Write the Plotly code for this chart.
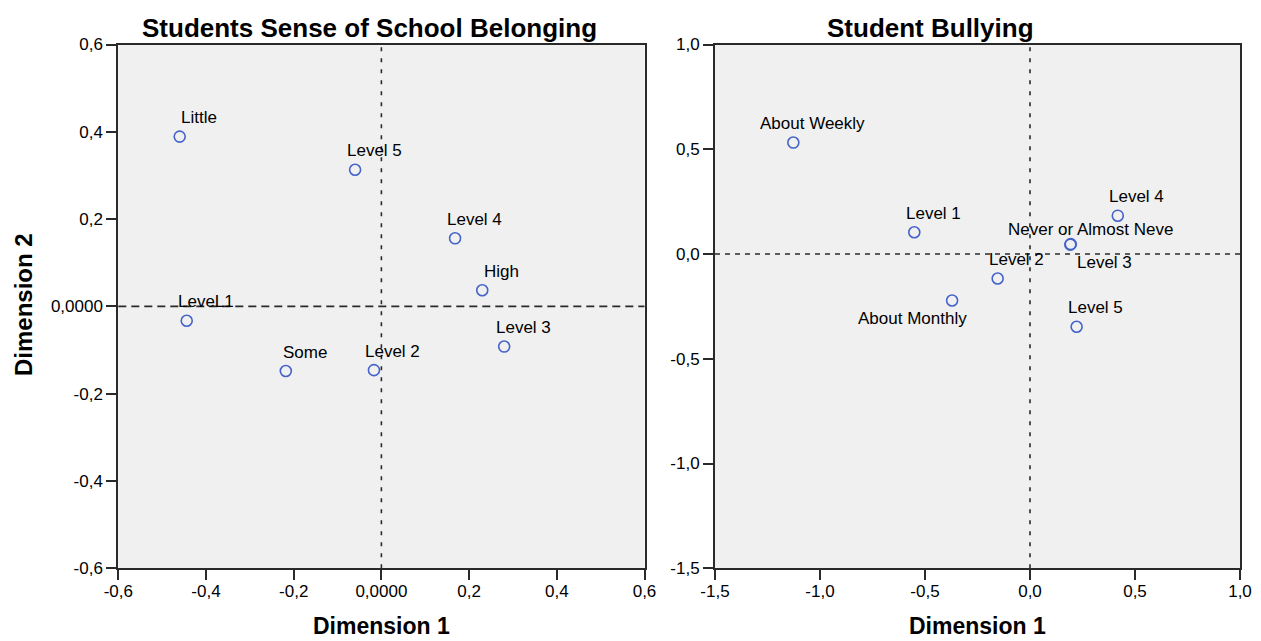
import plotly.graph_objects as go

# ---------------- data ----------------
belong_labels = ["Little", "Level 5", "Level 4", "High", "Level 3", "Level 2", "Some", "LeveL1"]
belong_dim1 = [-0.460, -0.060, 0.168, 0.230, 0.280, -0.017, -0.218, -0.444]
belong_dim2 = [0.389, 0.313, 0.156, 0.037, -0.092, -0.146, -0.148, -0.033]

bully_labels = ["About Weekly", "Level 1", "Level 4", "Never or Almost Neve", "Level 3",
                "Level 2", "About Monthly", "Level 5"]
bully_dim1 = [-1.127, -0.551, 0.418, 0.194, 0.192, -0.154, -0.371, 0.222]
bully_dim2 = [0.532, 0.104, 0.183, 0.047, 0.045, -0.117, -0.222, -0.347]

left_x_ticks = [-0.6, -0.4, -0.2, 0.0, 0.2, 0.4, 0.6]
left_x_text = ["-0,6", "-0,4", "-0,2", "0,0000", "0,2", "0,4", "0,6"]
left_y_ticks = [-0.6, -0.4, -0.2, 0.0, 0.2, 0.4, 0.6]
left_y_text = ["-0,6", "-0,4", "-0,2", "0,0000", "0,2", "0,4", "0,6"]

right_x_ticks = [-1.5, -1.0, -0.5, 0.0, 0.5, 1.0]
right_x_text = ["-1,5", "-1,0", "-0,5", "0,0", "0,5", "1,0"]
right_y_ticks = [-1.5, -1.0, -0.5, 0.0, 0.5, 1.0]
right_y_text = ["-1,5", "-1,0", "-0,5", "0,0", "0,5", "1,0"]

titles = ["Students Sense of School Belonging", "Student Bullying"]
x_title = "Dimension 1"
y_title = "Dimension 2"

# ---------------- styling ----------------
FONT = "Liberation Sans, Arial, sans-serif"
MARKER_COLOR = "#4563c9"
LINE_COLOR = "#2a2a2a"
DEFAULT_SHIFT = (19, 19)
# label placement overrides (px offsets from the point)
label_shift_right = {"Never or Almost Neve": (20, 15), "Level 3": (34, -18),
                     "About Monthly": (-40, -18)}

W, H = 1261, 641
left_dom = [118.3 / W, 644.5 / W]
right_dom = [715 / W, 1240 / W]
y_dom = [(H - 568.3) / H, (H - 44.5) / H]

fig = go.Figure()

marker = dict(symbol="circle-open", size=11, color=MARKER_COLOR, line=dict(width=1.6, color=MARKER_COLOR))
fig.add_trace(go.Scatter(x=belong_dim1, y=belong_dim2, mode="markers", marker=marker,
                         xaxis="x", yaxis="y", hoverinfo="text", hovertext=belong_labels,
                         showlegend=False))
fig.add_trace(go.Scatter(x=bully_dim1, y=bully_dim2, mode="markers", marker=marker,
                         xaxis="x2", yaxis="y2", hoverinfo="text", hovertext=bully_labels,
                         showlegend=False))

annotations = []
for lab, xv, yv in zip(belong_labels, belong_dim1, belong_dim2):
    dx, dy = DEFAULT_SHIFT
    annotations.append(dict(x=xv, y=yv, xref="x", yref="y", text=lab, showarrow=False,
                            xanchor="center", yanchor="middle",
                            xshift=dx, yshift=dy, font=dict(family=FONT, size=17, color="black")))
for lab, xv, yv in zip(bully_labels, bully_dim1, bully_dim2):
    dx, dy = label_shift_right.get(lab, DEFAULT_SHIFT)
    annotations.append(dict(x=xv, y=yv, xref="x2", yref="y2", text=lab, showarrow=False,
                            xanchor="center", yanchor="middle",
                            xshift=dx, yshift=dy, font=dict(family=FONT, size=17, color="black")))


def paper_text(px, py, text, size, angle=0):
    return dict(x=px / W, y=1 - py / H, xref="paper", yref="paper", text=text,
                showarrow=False, xanchor="center", yanchor="middle", textangle=angle,
                font=dict(family=FONT, size=size, color="black"))


annotations.append(paper_text(369, 28, "<b>%s</b>" % titles[0], 26))
annotations.append(paper_text(930, 28, "<b>%s</b>" % titles[1], 26))
annotations.append(paper_text(381.5, 626, "<b>%s</b>" % x_title, 23))
annotations.append(paper_text(977, 626, "<b>%s</b>" % x_title, 23))
annotations.append(paper_text(23, 305, "<b>%s</b>" % y_title, 24, angle=-90))

shapes = [
    dict(type="line", xref="x domain", yref="y", x0=0, x1=1, y0=0, y1=0,
         line=dict(color=LINE_COLOR, width=1.6, dash="8px,5px")),
    dict(type="line", xref="x", yref="y domain", x0=0, x1=0, y0=0, y1=1,
         line=dict(color=LINE_COLOR, width=1.6, dash="4px,7px")),
    dict(type="line", xref="x2 domain", yref="y2", x0=0, x1=1, y0=0, y1=0,
         line=dict(color=LINE_COLOR, width=1.6, dash="5px,5px")),
    dict(type="line", xref="x2", yref="y2 domain", x0=0, x1=0, y0=0, y1=1,
         line=dict(color=LINE_COLOR, width=1.6, dash="4px,7px")),
]

axis_common = dict(showgrid=False, zeroline=False, showline=True, mirror=True,
                   linecolor=LINE_COLOR, linewidth=2, ticks="outside", ticklen=10,
                   tickwidth=2, tickcolor=LINE_COLOR, automargin=False,
                   tickfont=dict(family=FONT, size=17, color="black"))

fig.update_layout(
    width=W, height=H,
    margin=dict(l=0, r=0, t=0, b=0, autoexpand=False),
    paper_bgcolor="white",
    plot_bgcolor="#f0f0f0",
    showlegend=False,
    xaxis=dict(domain=left_dom, range=[-0.6, 0.6], tickvals=left_x_ticks, ticktext=left_x_text,
               anchor="y", ticklabelstandoff=-4, **axis_common),
    yaxis=dict(domain=y_dom, range=[-0.6, 0.6], tickvals=left_y_ticks, ticktext=left_y_text,
               anchor="x", ticklabelstandoff=0, **axis_common),
    xaxis2=dict(domain=right_dom, range=[-1.5, 1.0], tickvals=right_x_ticks, ticktext=right_x_text,
                anchor="y2", ticklabelstandoff=-4, **axis_common),
    yaxis2=dict(domain=y_dom, range=[-1.5, 1.0], tickvals=right_y_ticks, ticktext=right_y_text,
                anchor="x2", ticklabelstandoff=0, **axis_common),
    annotations=annotations,
    shapes=shapes,
)

fig.write_html("out.html", config={"displayModeBar": False},
               post_script="document.body.style.margin='0';document.body.style.overflow='hidden';")
